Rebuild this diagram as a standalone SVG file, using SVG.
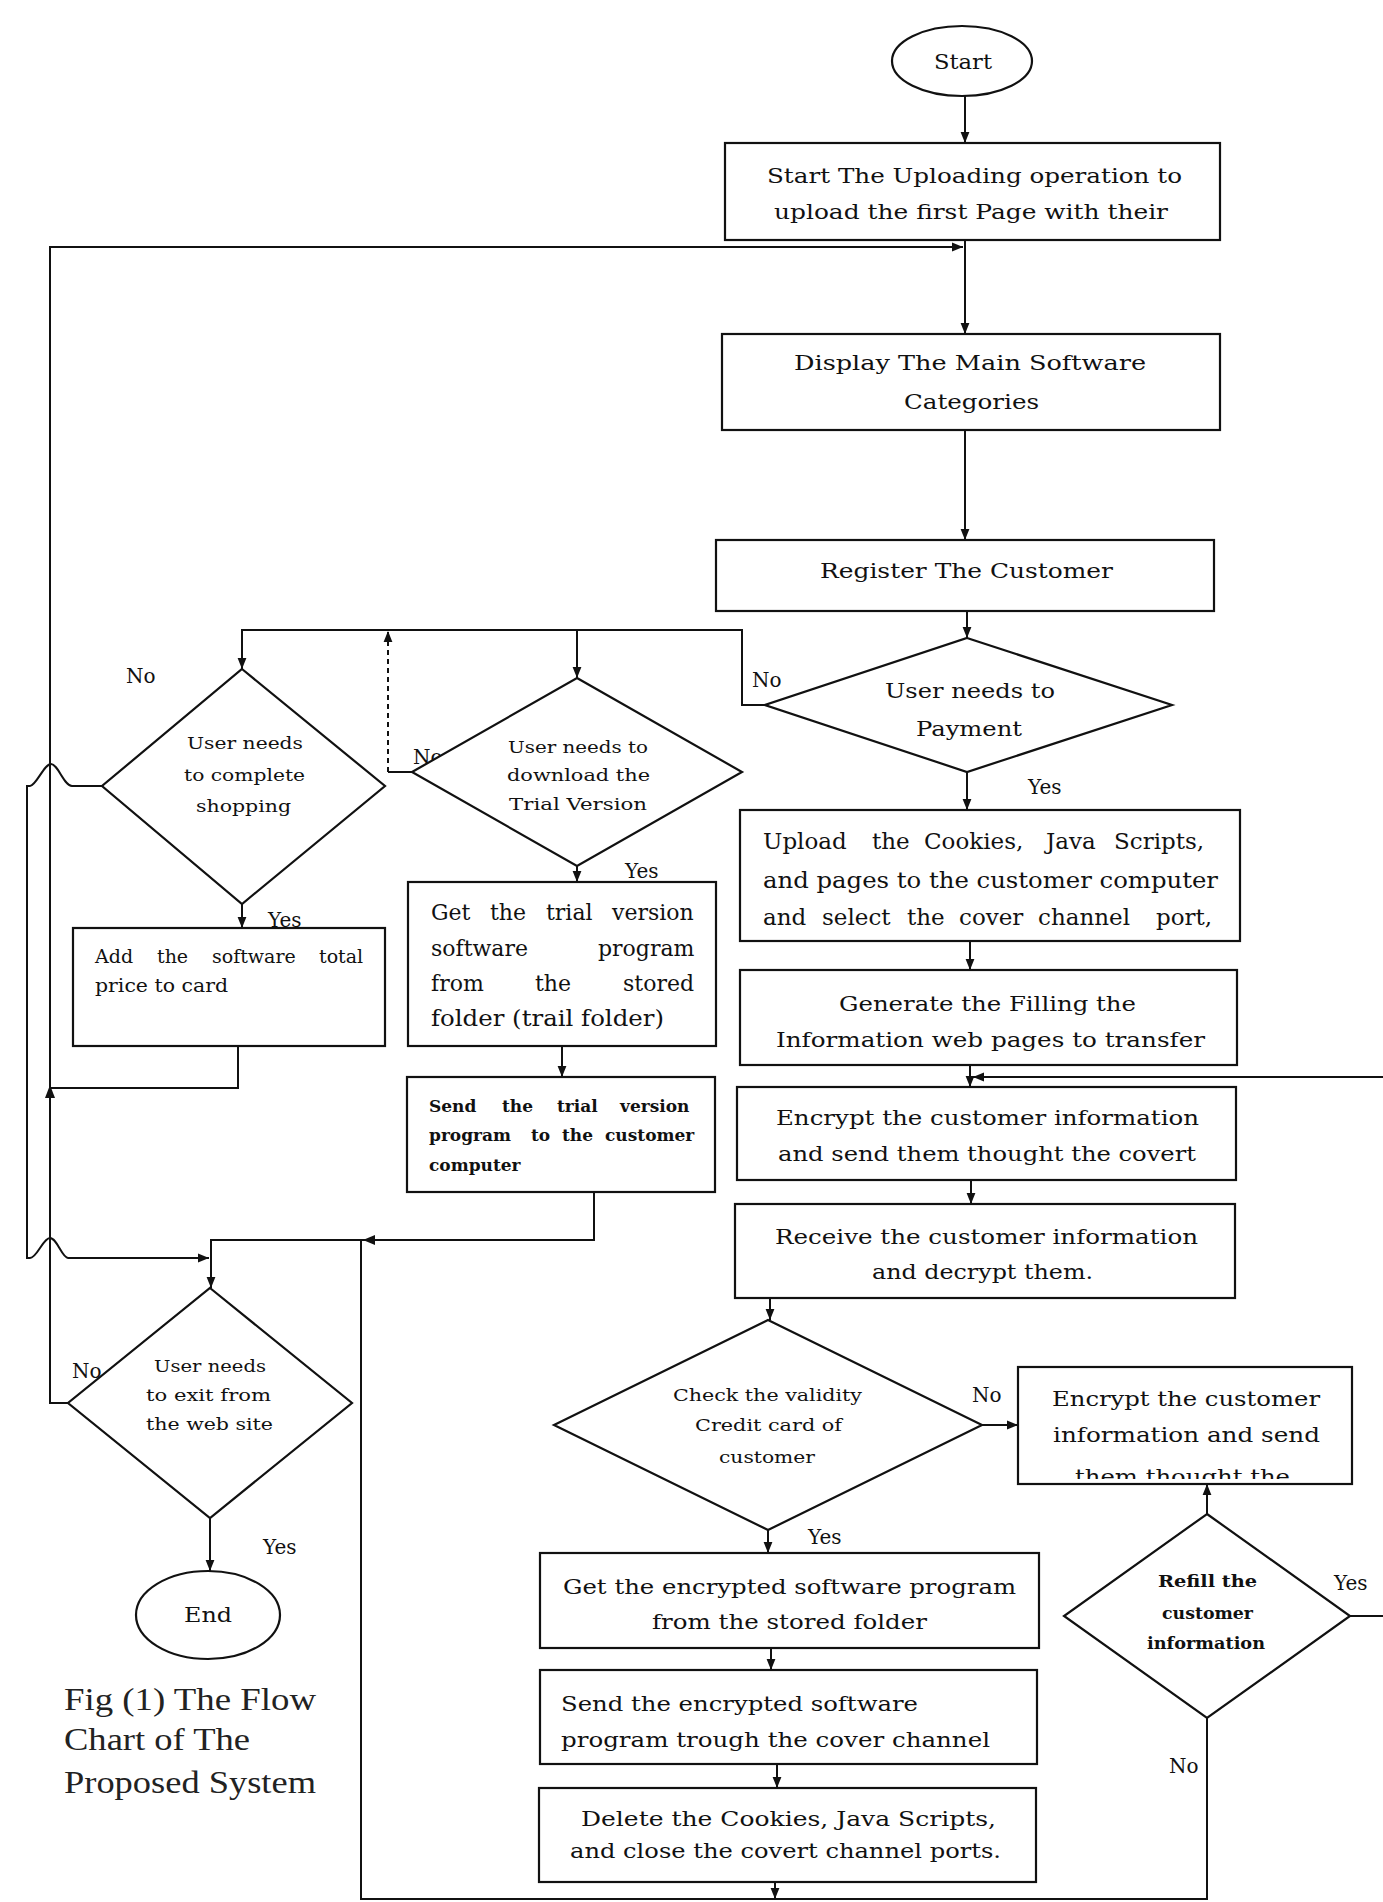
<svg xmlns="http://www.w3.org/2000/svg" width="1383" height="1902" viewBox="0 0 1383 1902">
<style>
.bx{fill:#fff;stroke:#111;stroke-width:2.2}
.cn{fill:none;stroke:#111;stroke-width:2}
.ds{fill:none;stroke:#111;stroke-width:2;stroke-dasharray:5 4}
.t{font-family:"DejaVu Serif","Liberation Serif",serif;fill:#111}
.m{font-size:21px}
.u{font-size:23px}
.g{font-size:22px}
.a{font-size:19px}
.s{font-size:17px}
.sb{font-size:17px;font-weight:bold}
.r{font-size:16px;font-weight:bold}
.l{font-size:20px}
.cap{font-family:"Liberation Serif","DejaVu Serif",serif;font-size:31px;fill:#222}
.ah{fill:#111}
</style>
<defs>
<marker id="ar" viewBox="0 0 10 10" refX="10" refY="5" markerWidth="11" markerHeight="11" markerUnits="userSpaceOnUse" orient="auto">
<path d="M0,1 L10,5 L0,9 z" fill="#111"/>
</marker>
<clipPath id="clipE2"><rect x="1018" y="1367" width="334" height="112"/></clipPath>
</defs>
<rect x="0" y="0" width="1383" height="1902" fill="#fff"/>

<g id="connectors">
<path class="cn" d="M965,96 L965,143" marker-end="url(#ar)"/>
<path class="cn" d="M965,240 L965,334" marker-end="url(#ar)"/>
<path class="cn" d="M68,1403 L50,1403 L50,247 L963,247" marker-end="url(#ar)"/>
<path class="cn" d="M965,430 L965,540" marker-end="url(#ar)"/>
<path class="cn" d="M967,611 L967,638" marker-end="url(#ar)"/>
<path class="cn" d="M765,705 L742,705 L742,630 L242,630 L242,669" marker-end="url(#ar)"/>
<path class="cn" d="M577,630 L577,678" marker-end="url(#ar)"/>
<path class="cn" d="M412,772 L388,772"/>
<path class="ds" d="M388,772 L388,631" marker-end="url(#ar)"/>
<path class="cn" d="M242,904 L242,928" marker-end="url(#ar)"/>
<path class="cn" d="M102,786 L72,786 C64,786 58,764 51,764 C44,764 36,786 30,786 L27,786 L27,1258 L30,1258 C37,1258 43,1238 50,1238 C57,1238 62,1258 68,1258 L209,1258" marker-end="url(#ar)"/>
<path class="cn" d="M238,1046 L238,1088 L50,1088"/>
<polygon class="ah" points="50,1085 45,1098 55,1098"/>
<path class="cn" d="M577,866 L577,882" marker-end="url(#ar)"/>
<path class="cn" d="M562,1046 L562,1077" marker-end="url(#ar)"/>
<path class="cn" d="M594,1192 L594,1240 L211,1240 L211,1288" marker-end="url(#ar)"/>
<polygon class="ah" points="363,1240 375,1235 375,1245"/>
<path class="cn" d="M1207,1718 L1207,1899 L361,1899 L361,1240"/>
<path class="cn" d="M775,1882 L775,1899" marker-end="url(#ar)"/>
<path class="cn" d="M967,772 L967,810" marker-end="url(#ar)"/>
<path class="cn" d="M970,941 L970,970" marker-end="url(#ar)"/>
<path class="cn" d="M970,1065 L970,1087" marker-end="url(#ar)"/>
<path class="cn" d="M971,1180 L971,1204" marker-end="url(#ar)"/>
<path class="cn" d="M770,1298 L770,1320" marker-end="url(#ar)"/>
<path class="cn" d="M982,1425 L1018,1425" marker-end="url(#ar)"/>
<path class="cn" d="M768,1530 L768,1553" marker-end="url(#ar)"/>
<path class="cn" d="M771,1648 L771,1670" marker-end="url(#ar)"/>
<path class="cn" d="M777,1764 L777,1788" marker-end="url(#ar)"/>
<path class="cn" d="M1207,1514 L1207,1484" marker-end="url(#ar)"/>
<path class="cn" d="M1350,1616 L1383,1616"/>
<path class="cn" d="M1383,1077 L973,1077" marker-end="url(#ar)"/>
<path class="cn" d="M210,1518 L210,1571" marker-end="url(#ar)"/>
</g>

<g id="labels">
<text class="t l" x="126" y="683">No</text>
<text class="t l" x="413" y="764">No</text>
<text class="t l" x="752" y="687">No</text>
<text class="t l" x="1028" y="794">Yes</text>
<text class="t l" x="268" y="927">Yes</text>
<text class="t l" x="625" y="878">Yes</text>
<text class="t l" x="72" y="1378">No</text>
<text class="t l" x="263" y="1554">Yes</text>
<text class="t l" x="972" y="1402">No</text>
<text class="t l" x="808" y="1544">Yes</text>
<text class="t l" x="1334" y="1590">Yes</text>
<text class="t l" x="1169" y="1773">No</text>
</g>

<g id="start">
<ellipse class="bx" cx="962" cy="61" rx="70" ry="35"/>
<text class="t m" x="934" y="69" textLength="58" lengthAdjust="spacingAndGlyphs">Start</text>
</g>

<g id="upload-first-page">
<rect class="bx" x="725" y="143" width="495" height="97"/>
<text class="t m" x="767" y="183" textLength="415" lengthAdjust="spacingAndGlyphs">Start The Uploading operation to</text>
<text class="t m" x="774" y="219" textLength="394" lengthAdjust="spacingAndGlyphs">upload the first Page with their</text>
</g>

<g id="display-categories">
<rect class="bx" x="722" y="334" width="498" height="96"/>
<text class="t m" x="794" y="370" textLength="352" lengthAdjust="spacingAndGlyphs">Display The Main Software</text>
<text class="t m" x="904" y="409" textLength="135" lengthAdjust="spacingAndGlyphs">Categories</text>
</g>

<g id="register-customer">
<rect class="bx" x="716" y="540" width="498" height="71"/>
<text class="t m" x="820" y="578" textLength="293" lengthAdjust="spacingAndGlyphs">Register The Customer</text>
</g>

<g id="payment-decision">
<polygon class="bx" points="967,638 1172,705 967,772 765,705"/>
<text class="t l" x="885" y="698" textLength="170" lengthAdjust="spacingAndGlyphs">User needs to</text>
<text class="t l" x="916" y="736" textLength="106" lengthAdjust="spacingAndGlyphs">Payment</text>
</g>

<g id="shopping-decision">
<polygon class="bx" points="242,669 385,786 242,904 102,786"/>
<text class="t s" x="187" y="749" textLength="116" lengthAdjust="spacingAndGlyphs">User needs</text>
<text class="t s" x="184" y="781" textLength="121" lengthAdjust="spacingAndGlyphs">to complete</text>
<text class="t s" x="196" y="812" textLength="95" lengthAdjust="spacingAndGlyphs">shopping</text>
</g>

<g id="trial-decision">
<polygon class="bx" points="577,678 742,772 577,866 412,772"/>
<text class="t s" x="508" y="753" textLength="140" lengthAdjust="spacingAndGlyphs">User needs to</text>
<text class="t s" x="507" y="781" textLength="143" lengthAdjust="spacingAndGlyphs">download the</text>
<text class="t s" x="509" y="810" textLength="138" lengthAdjust="spacingAndGlyphs">Trial Version</text>
</g>

<g id="add-to-card">
<rect class="bx" x="73" y="928" width="312" height="118"/>
<text class="t a" y="963"><tspan x="95">Add</tspan><tspan x="157">the</tspan><tspan x="212">software</tspan><tspan x="319">total</tspan></text>
<text class="t a" x="95" y="992" textLength="133" lengthAdjust="spacingAndGlyphs">price to card</text>
</g>

<g id="get-trial">
<rect class="bx" x="408" y="882" width="308" height="164"/>
<text class="t g" y="920"><tspan x="431">Get</tspan><tspan x="490">the</tspan><tspan x="546">trial</tspan><tspan x="612">version</tspan></text>
<text class="t g" y="956"><tspan x="431">software</tspan><tspan x="598">program</tspan></text>
<text class="t g" y="991"><tspan x="431">from</tspan><tspan x="535">the</tspan><tspan x="623">stored</tspan></text>
<text class="t g" x="431" y="1026" textLength="233" lengthAdjust="spacingAndGlyphs">folder (trail folder)</text>
</g>

<g id="send-trial">
<rect class="bx" x="407" y="1077" width="308" height="115"/>
<text class="t sb" y="1112"><tspan x="429">Send</tspan><tspan x="502">the</tspan><tspan x="557">trial</tspan><tspan x="620">version</tspan></text>
<text class="t sb" y="1141"><tspan x="429">program</tspan><tspan x="531">to</tspan><tspan x="562">the</tspan><tspan x="605">customer</tspan></text>
<text class="t sb" x="429" y="1171">computer</text>
</g>

<g id="upload-cookies">
<rect class="bx" x="740" y="810" width="500" height="131"/>
<text class="t u" y="849"><tspan x="763">Upload</tspan><tspan x="872">the</tspan><tspan x="924">Cookies,</tspan><tspan x="1046">Java</tspan><tspan x="1114">Scripts,</tspan></text>
<text class="t u" x="763" y="888" textLength="455" lengthAdjust="spacingAndGlyphs">and pages to the customer computer</text>
<text class="t u" y="925"><tspan x="763">and</tspan><tspan x="822">select</tspan><tspan x="907">the</tspan><tspan x="959">cover</tspan><tspan x="1038">channel</tspan><tspan x="1156">port,</tspan></text>
</g>

<g id="generate-pages">
<rect class="bx" x="740" y="970" width="497" height="95"/>
<text class="t m" x="839" y="1011" textLength="297" lengthAdjust="spacingAndGlyphs">Generate the Filling the</text>
<text class="t m" x="776" y="1047" textLength="429" lengthAdjust="spacingAndGlyphs">Information web pages to transfer</text>
</g>

<g id="encrypt-send">
<rect class="bx" x="737" y="1087" width="499" height="93"/>
<text class="t m" x="776" y="1125" textLength="423" lengthAdjust="spacingAndGlyphs">Encrypt the customer information</text>
<text class="t m" x="778" y="1161" textLength="418" lengthAdjust="spacingAndGlyphs">and send them thought the covert</text>
</g>

<g id="receive-decrypt">
<rect class="bx" x="735" y="1204" width="500" height="94"/>
<text class="t m" x="775" y="1244" textLength="423" lengthAdjust="spacingAndGlyphs">Receive the customer information</text>
<text class="t m" x="872" y="1279" textLength="221" lengthAdjust="spacingAndGlyphs">and decrypt them.</text>
</g>

<g id="check-validity">
<polygon class="bx" points="768,1320 982,1425 768,1530 554,1425"/>
<text class="t s" x="673" y="1401" textLength="189" lengthAdjust="spacingAndGlyphs">Check the validity</text>
<text class="t s" x="695" y="1431" textLength="147" lengthAdjust="spacingAndGlyphs">Credit card of</text>
<text class="t s" x="719" y="1463" textLength="96" lengthAdjust="spacingAndGlyphs">customer</text>
</g>

<g id="encrypt-resend">
<rect class="bx" x="1018" y="1367" width="334" height="117"/>
<text class="t m" x="1052" y="1406" textLength="268" lengthAdjust="spacingAndGlyphs">Encrypt the customer</text>
<text class="t m" x="1053" y="1442" textLength="267" lengthAdjust="spacingAndGlyphs">information and send</text>
<text class="t m" x="1075" y="1484" textLength="215" lengthAdjust="spacingAndGlyphs" clip-path="url(#clipE2)">them thought the</text>
</g>

<g id="refill-decision">
<polygon class="bx" points="1207,1514 1350,1616 1207,1718 1064,1616"/>
<text class="t r" x="1158" y="1587" textLength="99" lengthAdjust="spacingAndGlyphs">Refill the</text>
<text class="t r" x="1162" y="1619" textLength="91" lengthAdjust="spacingAndGlyphs">customer</text>
<text class="t r" x="1147" y="1649" textLength="118" lengthAdjust="spacingAndGlyphs">information</text>
</g>

<g id="get-encrypted">
<rect class="bx" x="540" y="1553" width="499" height="95"/>
<text class="t m" x="563" y="1594" textLength="453" lengthAdjust="spacingAndGlyphs">Get the encrypted software program</text>
<text class="t m" x="652" y="1629" textLength="275" lengthAdjust="spacingAndGlyphs">from the stored folder</text>
</g>

<g id="send-encrypted">
<rect class="bx" x="540" y="1670" width="497" height="94"/>
<text class="t m" x="561" y="1711" textLength="357" lengthAdjust="spacingAndGlyphs">Send the encrypted software</text>
<text class="t m" x="561" y="1747" textLength="429" lengthAdjust="spacingAndGlyphs">program trough the cover channel</text>
</g>

<g id="delete-cookies">
<rect class="bx" x="539" y="1788" width="497" height="94"/>
<text class="t m" x="581" y="1826" textLength="415" lengthAdjust="spacingAndGlyphs">Delete the Cookies, Java Scripts,</text>
<text class="t m" x="570" y="1858" textLength="431" lengthAdjust="spacingAndGlyphs">and close the covert channel ports.</text>
</g>

<g id="exit-decision">
<polygon class="bx" points="210,1288 352,1403 210,1518 68,1403"/>
<text class="t s" x="154" y="1372" textLength="112" lengthAdjust="spacingAndGlyphs">User needs</text>
<text class="t s" x="146" y="1401" textLength="125" lengthAdjust="spacingAndGlyphs">to exit from</text>
<text class="t s" x="146" y="1430" textLength="127" lengthAdjust="spacingAndGlyphs">the web site</text>
</g>

<g id="end">
<ellipse class="bx" cx="208" cy="1615" rx="72" ry="44"/>
<text class="t m" x="184" y="1622" textLength="48" lengthAdjust="spacingAndGlyphs">End</text>
</g>

<g id="caption">
<text class="cap" x="64" y="1710" textLength="252" lengthAdjust="spacingAndGlyphs">Fig (1) The Flow</text>
<text class="cap" x="64" y="1750" textLength="186" lengthAdjust="spacingAndGlyphs">Chart of The</text>
<text class="cap" x="64" y="1793" textLength="252" lengthAdjust="spacingAndGlyphs">Proposed System</text>
</g>
</svg>
